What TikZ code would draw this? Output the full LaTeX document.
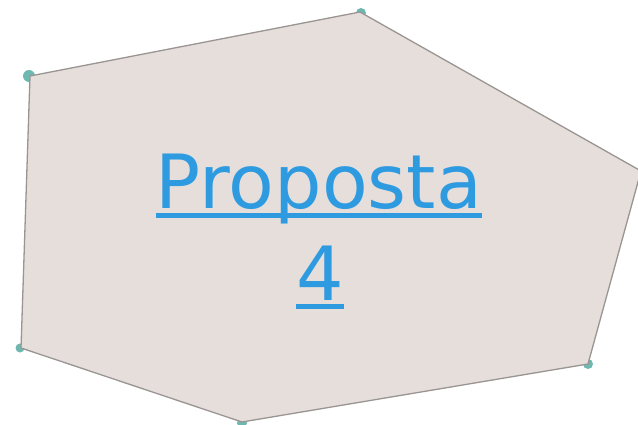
\documentclass[tikz,border=0pt]{standalone}
\usepackage{fontspec}
\setmainfont{DejaVu Sans}
\definecolor{shapefill}{HTML}{E5DEDB}
\definecolor{shapeline}{HTML}{9A9592}
\definecolor{handle}{HTML}{6DB9B1}
\definecolor{linkblue}{HTML}{2E9BE1}
\tikzset{
  handledot/.style={fill=handle, draw=none},
  linktext/.style={text=linkblue, font=\fontsize{74.8}{74.8}\selectfont, inner sep=0pt, anchor=base},
  linkrule/.style={draw=linkblue, line width=5pt}
}
\begin{document}
\begin{tikzpicture}[x=1pt, y=-1pt]
  \useasboundingbox (0,0) rectangle (638,425);
  % vertex handles sit underneath the shape
  \fill[handledot] (29,76) circle (6);
  \fill[handledot] (361,13) circle (5);
  \fill[handledot] (588,364) circle (5);
  \fill[handledot] (242,423) circle (5);
  \fill[handledot] (20,348) circle (4.5);
  % the polygon
  \draw[fill=shapefill, draw=shapeline, line width=1.3pt, line join=round]
    (30,76) -- (360,12) -- (641,171) -- (588,364) -- (242,422) -- (21,348) -- cycle;
  % underlined label
  \node[linktext] (l1) at (319,209) {Proposta};
  \node[linktext] (l2) at (320,300) {4};
  \draw[linkrule] ([yshift=-6.5pt]l1.base west) -- ([yshift=-6.5pt]l1.base east);
  \draw[linkrule] ([yshift=-6.5pt]l2.base west) -- ([yshift=-6.5pt]l2.base east);
\end{tikzpicture}
\end{document}
